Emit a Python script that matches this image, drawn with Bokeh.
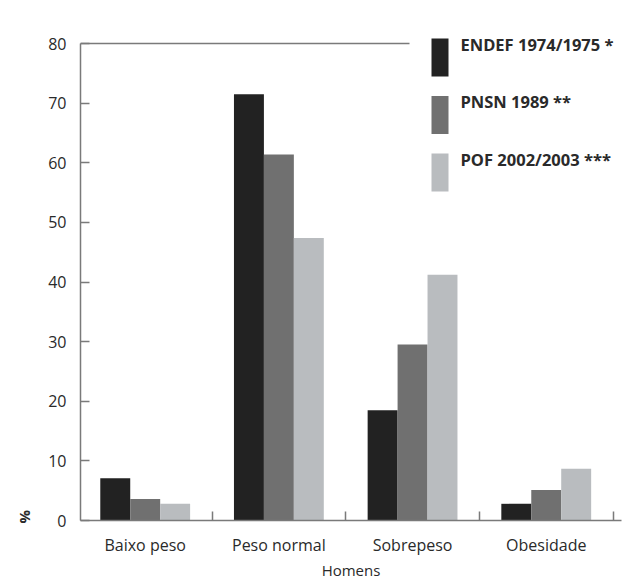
from bokeh.plotting import figure
from bokeh.models import (Range1d, FixedTicker, Label, Title,
                          ColumnDataSource)
from bokeh.embed import file_html
from bokeh.resources import INLINE

# ---- data ----
categories = ["Baixo peso", "Peso normal", "Sobrepeso", "Obesidade"]
series_names = ["ENDEF 1974/1975 *", "PNSN 1989 **", "POF 2002/2003 ***"]
endef = [7.1, 71.5, 18.5, 2.8]
pnsn = [3.6, 61.4, 29.5, 5.1]
pof = [2.8, 47.4, 41.2, 8.7]
y_ticks = [0, 10, 20, 30, 40, 50, 60, 70, 80]
x_title = "Homens"
y_title = "%"

# ---- style ----
colors = ["#222222", "#707070", "#b9bcbf"]
FONT = "Open Sans"
TXT = "#2a2a2a"
AX = "#7a7a7a"
bar_w = 0.224

FRAME_W, FRAME_H = 541, 487
Y_SPAN_PX = 477            # pixels for y 0..80
X0, X1 = 0.016, 4.063
px_per_y = Y_SPAN_PX / y_ticks[-1]
Y_END = FRAME_H / px_per_y
px_per_x = FRAME_W / (X1 - X0)

def fx(px_from_frame_left):
    return X0 + px_from_frame_left / px_per_x

def fy(px_from_frame_bottom):
    return px_from_frame_bottom / px_per_y

centers = [i + 0.5 for i in range(len(categories))]
boundaries = [i + 1 for i in range(len(categories))]

p = figure(output_backend="svg", toolbar_location=None,
           frame_width=FRAME_W, frame_height=FRAME_H,
           min_border_left=79, min_border_top=33, min_border_right=8,
           min_border_bottom=60,
           x_range=Range1d(X0, X1), y_range=Range1d(0, Y_END))
p.outline_line_color = None
p.xgrid.visible = False
p.ygrid.visible = False

series = [endef, pnsn, pof]
for k, (vals, col) in enumerate(zip(series, colors)):
    xs = [c + (k - 1) * bar_w for c in centers]
    src = ColumnDataSource(dict(x=xs, top=vals))
    p.vbar(x="x", top="top", width=bar_w, bottom=0, source=src,
           fill_color=col, line_color=None)

# top border line (stops before the legend)
p.segment(x0=[X0], y0=[y_ticks[-1]], x1=[fx(329)], y1=[y_ticks[-1]],
          line_color=AX, line_width=1.5)

# legend drawn by hand: tall swatches with text aligned to their tops
LEG_LEFT, LEG_W = 351, 17       # px from frame left
LEG_TOP, LEG_H, LEG_PITCH = 482, 38, 57.5   # px from frame bottom
for k, (name, col) in enumerate(zip(series_names, colors)):
    top_px = LEG_TOP - k * LEG_PITCH
    p.quad(left=[fx(LEG_LEFT)], right=[fx(LEG_LEFT + LEG_W)],
           top=[fy(top_px)], bottom=[fy(top_px - LEG_H)],
           fill_color=col, line_color=None)
    p.add_layout(Label(x=fx(LEG_LEFT + LEG_W + 12), y=fy(top_px - 5.5),
                       text=name, text_baseline="alphabetic",
                       text_align="left", text_font=FONT,
                       text_font_size="16.5px", text_font_style="bold",
                       text_color=TXT))

# y axis
ya = p.yaxis[0]
ya.ticker = FixedTicker(ticks=y_ticks)
ya.bounds = (y_ticks[0], y_ticks[-1])
ya.major_tick_in = 9
ya.major_tick_out = 0
ya.minor_tick_line_color = None
ya.axis_line_color = AX
ya.axis_line_width = 1.5
ya.major_tick_line_color = AX
ya.major_tick_line_width = 1.5
ya.major_label_standoff = 14
ya.major_label_text_font = FONT
ya.major_label_text_font_size = "16px"
ya.major_label_text_color = TXT

# rotated "%" title next to the origin
p.add_layout(Title(text=y_title, align="left", text_font=FONT,
                   text_font_size="15px", text_font_style="bold",
                   text_color=TXT, standoff=23, offset=-3), "left")

# x axis
xa = p.xaxis[0]
xa.ticker = FixedTicker(ticks=centers, minor_ticks=boundaries)
xa.major_label_overrides = {c: n for c, n in zip(centers, categories)}
xa.major_tick_line_color = None
xa.major_tick_in = 0
xa.major_tick_out = 0
xa.minor_tick_in = 9
xa.minor_tick_out = 0
xa.minor_tick_line_color = AX
xa.minor_tick_line_width = 1.5
xa.axis_line_color = AX
xa.axis_line_width = 1.5
xa.major_label_standoff = 13
xa.major_label_text_font = FONT
xa.major_label_text_font_size = "16px"
xa.major_label_text_color = TXT
xa.axis_label = x_title
xa.axis_label_text_font = FONT
xa.axis_label_text_font_size = "15px"
xa.axis_label_text_font_style = "normal"
xa.axis_label_text_color = TXT
xa.axis_label_standoff = 1

open("out.html", "w").write(file_html(p, INLINE))
